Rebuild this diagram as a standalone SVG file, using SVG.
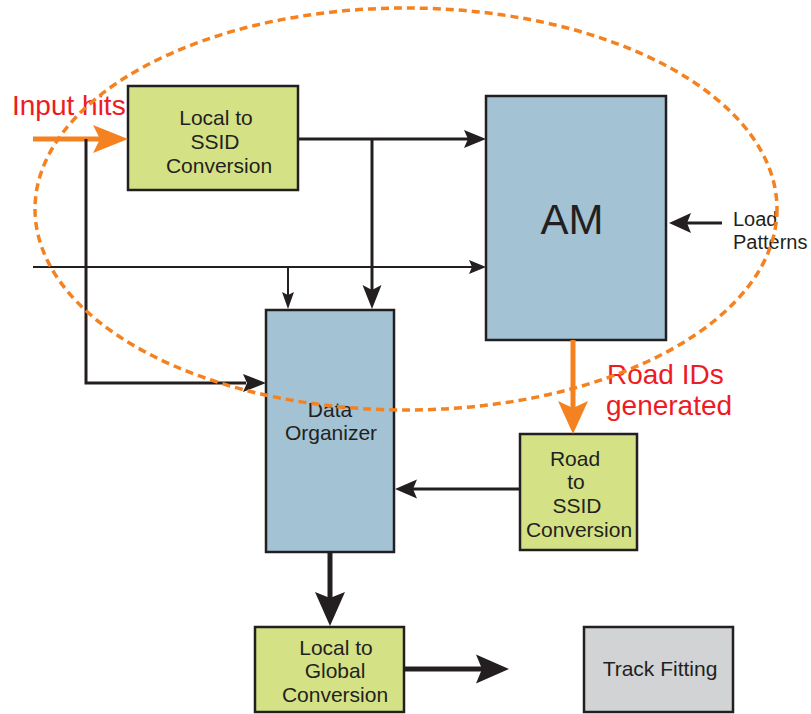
<svg xmlns="http://www.w3.org/2000/svg" width="811" height="714" viewBox="0 0 811 714">
  <style>
    .box { stroke: #231f20; stroke-width: 2.5; }
    .green { fill: #d4e285; }
    .blue { fill: #a3c2d3; }
    .grey { fill: #d1d3d4; }
    .lbl { font-family: "Liberation Sans", Arial, sans-serif; font-size: 21px; fill: #231f20; text-anchor: middle; }
    .red { font-family: "Liberation Sans", Arial, sans-serif; font-size: 28px; fill: #ed1c24; }
    .wire { stroke: #231f20; fill: none; stroke-width: 3; }
    .thin { stroke: #231f20; fill: none; stroke-width: 2; }
    .thick { stroke: #231f20; fill: none; stroke-width: 5; }
    .head { fill: #231f20; }
    .orange { stroke: #f58220; fill: none; stroke-width: 5; }
    .ohead { fill: #f58220; }
    .ring { stroke: #f58220; fill: none; stroke-width: 3.5; stroke-dasharray: 8 5; }
  </style>

  <!-- nodes -->
  <g id="local-to-ssid">
    <rect class="box green" x="128" y="86" width="170" height="104"/>
    <text class="lbl" x="216" y="125">Local to</text>
    <text class="lbl" x="215" y="149">SSID</text>
    <text class="lbl" x="219" y="173">Conversion</text>
  </g>
  <g id="am">
    <rect class="box blue" x="486" y="96" width="180" height="244"/>
    <text class="lbl" x="572" y="234" style="font-size:42px">AM</text>
  </g>
  <g id="data-organizer">
    <rect class="box blue" x="266" y="310" width="128" height="242"/>
    <text class="lbl" x="330" y="417">Data</text>
    <text class="lbl" x="331" y="440">Organizer</text>
  </g>
  <g id="road-to-ssid">
    <rect class="box green" x="520" y="434" width="117" height="116"/>
    <text class="lbl" x="575" y="466">Road</text>
    <text class="lbl" x="576" y="489">to</text>
    <text class="lbl" x="577" y="513">SSID</text>
    <text class="lbl" x="579" y="537">Conversion</text>
  </g>
  <g id="local-to-global">
    <rect class="box green" x="255" y="627" width="149" height="85"/>
    <text class="lbl" x="336" y="655">Local to</text>
    <text class="lbl" x="335" y="678">Global</text>
    <text class="lbl" x="335" y="702">Conversion</text>
  </g>
  <g id="track-fitting">
    <rect class="box grey" x="584" y="627" width="149" height="85"/>
    <text class="lbl" x="660" y="676">Track Fitting</text>
  </g>

  <!-- connectors -->
  <g id="connectors">
    <!-- input hits -->
    <line class="orange" x1="33" y1="139" x2="100" y2="139"/>
    <polygon class="ohead" points="128,139 93,125 100,139 93,153"/>
    <!-- bypass of input hits to the organizer -->
    <polyline class="wire" points="86,139 86,383 246,383"/>
    <polygon class="head" points="266,383 243,374 247,383 243,392"/>
    <!-- SSID output to AM -->
    <line class="wire" x1="298" y1="139" x2="468" y2="139"/>
    <polygon class="head" points="486,139 464,130 468,139 464,148"/>
    <!-- SSID output to organizer -->
    <line class="wire" x1="372" y1="139" x2="372" y2="290"/>
    <polygon class="head" points="372,309 362.5,285 372,290 381.5,285"/>
    <!-- second input line -->
    <line class="thin" x1="33" y1="267" x2="472" y2="267"/>
    <polygon class="head" points="486,267 469,260 472,267 469,274"/>
    <line class="thin" x1="288" y1="267" x2="288" y2="295"/>
    <polygon class="head" points="288,309 282,292 288,295 294,292"/>
    <!-- load patterns -->
    <line class="wire" x1="722" y1="223" x2="686" y2="223"/>
    <polygon class="head" points="669,223 691,213 687,223 691,233"/>
    <!-- road IDs -->
    <line class="orange" x1="573" y1="340" x2="573" y2="408"/>
    <polygon class="ohead" points="573,434 558,401 573,408 588,401"/>
    <!-- road SSID back to organizer -->
    <line class="wire" x1="520" y1="489" x2="412" y2="489"/>
    <polygon class="head" points="395,489 417,479.5 413,489 417,498.5"/>
    <!-- organizer to local-to-global -->
    <line class="thick" x1="330" y1="552" x2="330" y2="598"/>
    <polygon class="head" points="330,626 315,592 330,598 345,592"/>
    <!-- local-to-global onward -->
    <line class="thick" x1="404" y1="669" x2="482" y2="669"/>
    <polygon class="head" points="509,669 476,654.5 482,669 476,683.5"/>
  </g>

  <!-- annotations -->
  <g id="labels">
    <text class="red" x="12" y="115">Input hits</text>
    <text class="red" x="607" y="384">Road IDs</text>
    <text class="red" x="606" y="415">generated</text>
    <text class="lbl" x="733" y="226" style="text-anchor:start;font-size:20px">Load</text>
    <text class="lbl" x="733" y="249" style="text-anchor:start;font-size:20px">Patterns</text>
  </g>

  <!-- dashed region around the input stage and AM -->
  <ellipse class="ring" cx="406" cy="209" rx="371" ry="201"/>
</svg>
